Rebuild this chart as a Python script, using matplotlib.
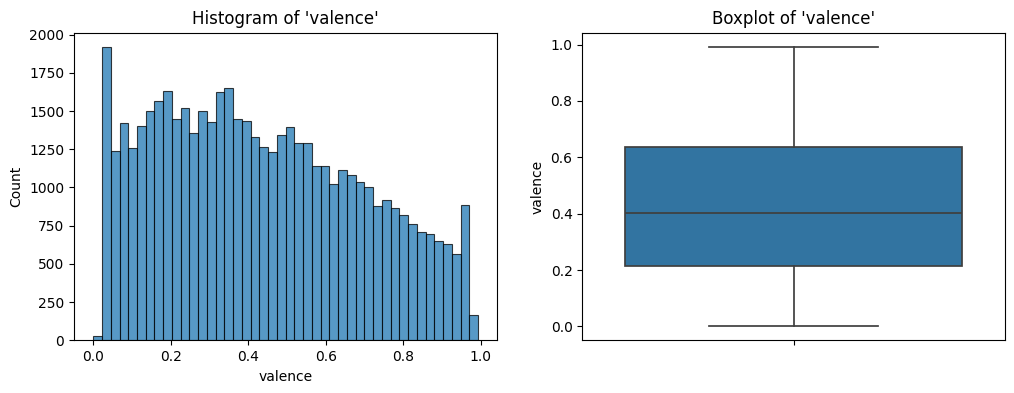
import numpy as np
import matplotlib
matplotlib.use("Agg")
import matplotlib.pyplot as plt

# --- Data ---

# histogram of 'valence': 44 equal bins between min and max
valence_min = 0.0
valence_max = 0.993
hist_counts = [26, 1917, 1237, 1421, 1257, 1401, 1499, 1565, 1631, 1447,
               1519, 1355, 1499, 1427, 1624, 1650, 1447, 1434, 1329, 1263,
               1231, 1342, 1395, 1294, 1294, 1139, 1139, 1021, 1113, 1080,
               1034, 1001, 877, 916, 863, 817, 758, 708, 693, 647,
               627, 562, 883, 168]

# boxplot summary of 'valence'
box_whislo = 0.0
box_q1 = 0.215
box_median = 0.404
box_q3 = 0.636
box_whishi = 0.993

HIST_COLOR = '#1f77b4'
BOX_COLOR = '#3274a1'
LINE_COLOR = '#3f3f3f'


def main():
    fig = plt.figure(figsize=(10.14, 3.93), dpi=100)
    ax1 = fig.add_axes([0.073, 0.134, 0.4175, 0.783])
    ax2 = fig.add_axes([0.5743, 0.134, 0.4165, 0.783])

    # --- histogram ---
    edges = np.linspace(valence_min, valence_max, len(hist_counts) + 1)
    ax1.bar(edges[:-1], hist_counts, width=np.diff(edges), align='edge',
            color=HIST_COLOR, edgecolor='black', linewidth=0.8, alpha=0.75)
    ax1.set_title("Histogram of 'valence'", fontsize=12)
    ax1.set_xlabel('valence')
    ax1.set_ylabel('Count')

    # --- boxplot ---
    stats = [{'whislo': box_whislo, 'q1': box_q1, 'med': box_median,
              'q3': box_q3, 'whishi': box_whishi, 'fliers': []}]
    ax2.bxp(stats, positions=[0], widths=0.8, patch_artist=True,
            showfliers=False,
            boxprops=dict(facecolor=BOX_COLOR, edgecolor=LINE_COLOR, linewidth=1.25),
            medianprops=dict(color=LINE_COLOR, linewidth=1.25),
            whiskerprops=dict(color=LINE_COLOR, linewidth=1.25),
            capprops=dict(color=LINE_COLOR, linewidth=1.25),
            capwidths=0.4)
    ax2.set_xlim(-0.5, 0.5)
    ax2.set_ylim(box_whislo - 0.05 * (box_whishi - box_whislo),
                 box_whishi + 0.05 * (box_whishi - box_whislo))
    ax2.set_xticks([0])
    ax2.set_xticklabels([''])
    ax2.set_ylabel('valence')
    ax2.set_title("Boxplot of 'valence'", fontsize=12)

    fig.savefig('out.png', dpi=100)
    plt.close(fig)


if __name__ == "__main__":
    main()
